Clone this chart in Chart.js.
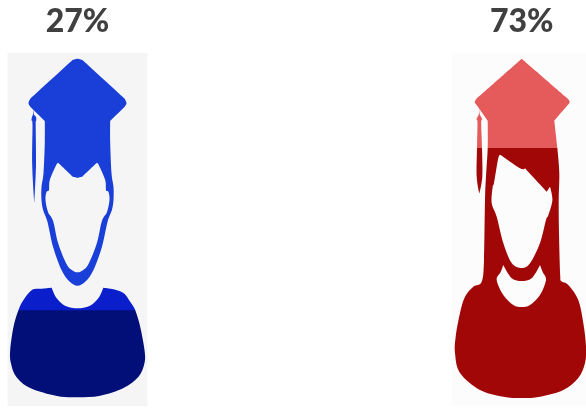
<!DOCTYPE html>
<html>
<head>
<meta charset="utf-8">
<style>
  html, body { margin: 0; padding: 0; background: #fff; }
  canvas { display: block; }
</style>
<script src="https://cdn.jsdelivr.net/npm/chart.js@4/dist/chart.umd.min.js"></script>
</head>
<body>
<canvas id="chart" width="586" height="409"></canvas>
<script>
const categories = ['Male graduates', 'Female graduates'];
const shares = [27, 73];
const remainders = [73, 27];

// silhouettes, x relative to the bar centre, y in page pixels
const maleOutline = [[0,58.7],[5,60],[5,60],[47,98.5],[47,98.5],[49,103],[47,107],[47,107],[32.7,121],[32.7,121],[32.7,143],[34,173],[36,187],[36,200],[34.4,210],[30,222],[24.4,247],[16,270],[8,281.5],[0,285.7],[-8,281.5],[-16,270],[-24.4,247],[-30,222],[-34.4,210],[-36,200],[-36,187],[-34,173],[-32.7,143],[-32.7,121],[-32.7,121],[-47,107],[-47,107],[-49,103],[-47,98.5],[-47,98.5],[-5,60],[-5,60]];
const maleFace = [[0,177.7],[5,176.5],[5,176.5],[18,164],[19.4,163.3],[21,164.5],[27.7,180],[28.5,190],[31,192],[32,200],[29.5,212],[24.4,221],[19.4,243],[11,264],[5,270.5],[0,272.3],[-5,270.5],[-11,264],[-19.4,243],[-24.4,221],[-29.5,212],[-32,200],[-31,192],[-28.5,190],[-27.7,180],[-21,164.5],[-19.4,163.3],[-18,164],[-5,176.5],[-5,176.5]];
const maleTassel = [[-44,110],[-43.5,114.5],[-41.5,117],[-41.2,120.5],[-41.8,125],[-41.5,165],[-43.2,203],[-43.2,203],[-45.3,165],[-45,125],[-46,120.5],[-45.5,117],[-44.5,114.5]];
const maleBody = [[-25.8,287.7],[-25.8,287.7],[-21,298],[-12,306],[0,308.3],[12,306],[21,298],[25.8,287.7],[25.8,287.7],[36,289.3],[46,293],[52.7,301.7],[57.7,310],[62.7,326.7],[67,350],[67,363],[61,376.7],[46,388],[22.7,395.7],[0,397.3],[-20.6,396],[-47.3,388],[-61.3,376.7],[-66.6,363],[-67.3,350],[-64,326.7],[-59,310],[-54,300],[-45.6,290],[-35.6,288.7]];
const femaleOutline = [[0,58.7],[0,58.7],[46,98.5],[46,98.5],[48,102],[46,105],[46,105],[32.6,120.7],[32.6,120.7],[35.6,147.7],[37.6,173],[37,200],[37.3,233],[38.5,275],[39.5,281],[46.6,285],[56.6,300],[61.6,323],[64.3,346.7],[63.3,363],[56.6,378],[41.6,390],[18.3,396.7],[0,398],[-18.4,396.7],[-41.7,390],[-61.7,373],[-66.7,353],[-66,336.7],[-61.7,313],[-56.7,296.7],[-48.4,286.7],[-40,281.7],[-37.7,260],[-36.7,200],[-35.5,173],[-34,147.7],[-34,120.7],[-34,120.7],[-45,105],[-45,105],[-47,102],[-45,98.5],[-45,98.5]];
const femaleFace = [[-21,155],[-21,155],[-1.7,168.3],[3.3,168.3],[3.3,168.3],[25,191.7],[25,191.7],[28.3,186.7],[28.3,186.7],[30.7,200],[26.7,215],[24.3,220],[18.3,243],[8.3,263.3],[0,268],[-10,263],[-18.4,243],[-25,216.7],[-30,203],[-29,186.7],[-27.7,183],[-23.4,158]];
const femaleNeck = [[-18.4,265],[-18.4,265],[-10,278.3],[0,281],[10,278.3],[18.3,265],[18.3,265],[21,272],[24.3,280],[18.3,295],[8.3,305],[0,307],[-8.4,305],[-18.4,295],[-25,280],[-21,272]];
const femaleTassel = [[-42.4,106],[-42,114],[-39.6,119],[-40.5,123],[-39.7,147.7],[-39.4,176.7],[-42.4,193.5],[-42.4,193.5],[-45,176.7],[-44.7,147.7],[-44.2,123],[-45.2,119],[-42.8,114]];

// closed Catmull-Rom curve through the points; a repeated point gives a corner
function smoothPath(pts){
  const p = new Path2D();
  const n = pts.length;
  const same = (u,v) => u[0] === v[0] && u[1] === v[1];
  p.moveTo(pts[0][0], pts[0][1]);
  for (let i = 0; i < n; i++){
    const a = pts[(i-1+n)%n], b = pts[i], c = pts[(i+1)%n], d = pts[(i+2)%n];
    if (same(b,c)) continue;
    const c1 = same(a,b) ? b : [b[0] + (c[0]-a[0])/6, b[1] + (c[1]-a[1])/6];
    const c2 = same(c,d) ? c : [c[0] - (d[0]-b[0])/6, c[1] - (d[1]-b[1])/6];
    p.bezierCurveTo(c1[0], c1[1], c2[0], c2[1], c[0], c[1]);
  }
  p.closePath();
  return p;
}

function drawMale(m){
  const main = smoothPath(maleOutline);
  main.addPath(smoothPath(maleFace));
  m.fill(main, 'evenodd');
  m.fill(smoothPath(maleTassel));
  m.fill(smoothPath(maleBody));
}

function drawFemale(m){
  const main = smoothPath(femaleOutline);
  main.addPath(smoothPath(femaleFace));
  main.addPath(smoothPath(femaleNeck));
  m.fill(main, 'evenodd');
  m.fill(smoothPath(femaleTassel));
}

const figureDrawers = [drawMale, drawFemale];
const panelColors = ['#f5f5f5', '#fcfcfd'];

// cuts the stacked bars down to the two figures, then lays the pale panels behind
const pictogram = {
  id: 'pictogram',
  afterDatasetsDraw(chart){
    const ctx = chart.ctx;
    const bars = chart.getDatasetMeta(0).data;
    const top = chart.scales.y.getPixelForValue(100);
    const bottom = chart.scales.y.getPixelForValue(0);
    const dpr = chart.currentDevicePixelRatio;
    const mask = document.createElement('canvas');
    mask.width = chart.canvas.width;
    mask.height = chart.canvas.height;
    const m = mask.getContext('2d');
    bars.forEach((bar,i) => {
      m.setTransform(dpr, 0, 0, dpr, bar.x*dpr, 0);
      figureDrawers[i](m);
    });
    ctx.save();
    ctx.setTransform(1,0,0,1,0,0);
    ctx.globalCompositeOperation = 'destination-in';
    ctx.drawImage(mask, 0, 0);
    ctx.restore();
    ctx.save();
    ctx.globalCompositeOperation = 'destination-over';
    bars.forEach((bar,i) => {
      ctx.fillStyle = panelColors[i];
      ctx.fillRect(bar.x - bar.width/2, top, bar.width, bottom - top);
    });
    ctx.restore();
  },
  afterDraw(chart){
    const ctx = chart.ctx;
    ctx.save();
    ctx.font = '900 32px Lato';
    ctx.fillStyle = '#404040';
    ctx.textAlign = 'center';
    ctx.textBaseline = 'alphabetic';
    chart.getDatasetMeta(0).data.forEach((bar,i) => {
      ctx.fillText(shares[i] + '%', bar.x, 32);
    });
    ctx.restore();
  }
};

function upperColor(c){
  if (c.dataIndex === 1) return '#e55b5b';
  const g = c.chart.ctx.createLinearGradient(0, 0, 0, 409);
  g.addColorStop(0, '#1a3fd8');
  g.addColorStop(0.699, '#1a3fd8');
  g.addColorStop(0.70, '#0a1ecb');
  g.addColorStop(1, '#0a1ecb');
  return g;
}

new Chart(document.getElementById('chart').getContext('2d'), {
  type: 'bar',
  data: {
    labels: categories,
    datasets: [
      { data: shares, backgroundColor: ['#030f78', '#a20707'], barThickness: 140, borderWidth: 0, clip: false },
      { data: remainders, backgroundColor: upperColor, barThickness: 140, borderWidth: 0, clip: false }
    ]
  },
  options: {
    responsive: false,
    animation: false,
    layout: { padding: { left: 77.5, right: 64.3, top: 53, bottom: 3 } },
    plugins: { legend: { display: false }, tooltip: { enabled: false } },
    scales: {
      x: { display: false, stacked: true, offset: false },
      y: { display: false, stacked: true, min: 0, max: 100 }
    }
  },
  plugins: [pictogram]
});
</script>
</body>
</html>
